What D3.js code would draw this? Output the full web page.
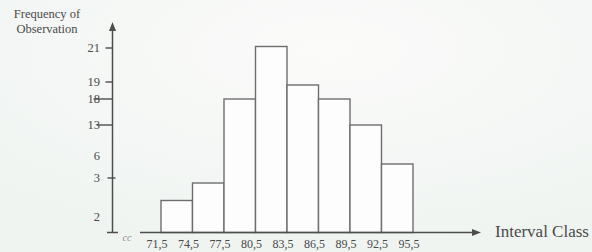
<!DOCTYPE html>
<html>
<head>
<meta charset="utf-8">
<script src="https://cdn.jsdelivr.net/npm/d3@7"></script>
<style>
  body { margin: 0; background: #f5f8f6; }
  svg { display: block; }
  text { font-family: "Liberation Serif", "DejaVu Serif", serif; fill: #4a4a4a; }
</style>
</head>
<body>
<script>
// Data
const classEdges = [71.5, 74.5, 77.5, 80.5, 83.5, 86.5, 89.5, 92.5, 95.5];
const edgeLabels = ["71,5", "74,5", "77,5", "80,5", "83,5", "86,5", "89,5", "92,5", "95,5"];
const frequencies = [2, 3, 18, 21, 19, 18, 13, 6];
const yTickValues = [21, 19, 18, 13, 6, 3, 2];
const yTickMarked = [21, 19, 18, 13, 3];

const width = 592;
const height = 252;

const svg = d3.select("body")
  .append("svg")
  .attr("width", width)
  .attr("height", height);

// faint page background
const grad = svg.append("defs").append("radialGradient")
  .attr("id", "bg").attr("cx", "55%").attr("cy", "20%").attr("r", "80%");
grad.append("stop").attr("offset", "0%").attr("stop-color", "#fbfbfa");
grad.append("stop").attr("offset", "100%").attr("stop-color", "#eff4f1");
svg.append("rect").attr("width", width).attr("height", height).attr("fill", "url(#bg)");

const axisX = 112.5;
const baseY = 232.5;

// Scales (the y axis of the original is hand drawn, not linear)
const xscale = d3.scaleLinear().domain([71.5, 95.5]).range([161, 413]);
const barY = d3.scaleLinear()
  .domain([0, 2, 3, 6, 13, 18, 19, 21])
  .range([baseY, 200.5, 183, 164, 125, 99, 85, 46.5]);
const tickY = d3.scaleLinear()
  .domain([2, 3, 6, 13, 18, 19, 21])
  .range([217, 178, 156, 125, 99, 82, 48]);

const bins = frequencies.map((f, i) => ({ x0: classEdges[i], x1: classEdges[i + 1], f: f }));

// Bars
svg.append("g")
  .selectAll("rect")
  .data(bins)
  .join("rect")
  .attr("x", d => xscale(d.x0))
  .attr("y", d => barY(d.f))
  .attr("width", d => xscale(d.x1) - xscale(d.x0))
  .attr("height", d => baseY - barY(d.f))
  .attr("fill", "#fcfdfc")
  .attr("stroke", "#6e6e6e")
  .attr("stroke-width", 1.4);

// Axes lines
const axisColor = "#4d4d4d";
svg.append("line")
  .attr("x1", axisX).attr("x2", axisX)
  .attr("y1", baseY).attr("y2", 29)
  .attr("stroke", axisColor).attr("stroke-width", 1.5);
svg.append("path")
  .attr("d", `M${axisX},22 L${axisX - 3.5},31 L${axisX + 3.5},31 Z`)
  .attr("fill", axisColor);

svg.append("line")
  .attr("x1", 107).attr("x2", 118)
  .attr("y1", baseY).attr("y2", baseY)
  .attr("stroke", axisColor).attr("stroke-width", 1.5);
svg.append("line")
  .attr("x1", 140).attr("x2", 473)
  .attr("y1", baseY).attr("y2", baseY)
  .attr("stroke", axisColor).attr("stroke-width", 1.5);
svg.append("path")
  .attr("d", `M481,${baseY} L472,${baseY - 3.5} L472,${baseY + 3.5} Z`)
  .attr("fill", axisColor);

// axis break mark
svg.append("text")
  .attr("x", 127).attr("y", 241)
  .attr("text-anchor", "middle")
  .style("font-size", "10px")
  .style("font-style", "italic")
  .style("fill", "#8a8a8a")
  .text("cc");

// Y ticks
const tickLen = { 18: 19, 13: 16, 3: 5 };
svg.append("g")
  .selectAll("line")
  .data(yTickMarked)
  .join("line")
  .attr("x1", d => axisX - (tickLen[d] || 7))
  .attr("x2", d => d === 3 ? axisX + 3 : axisX)
  .attr("y1", d => tickY(d))
  .attr("y2", d => tickY(d))
  .attr("stroke", axisColor)
  .attr("stroke-width", 1.4);

svg.append("g")
  .selectAll("text")
  .data(yTickValues)
  .join("text")
  .attr("x", 100)
  .attr("y", d => tickY(d))
  .attr("dy", "0.35em")
  .attr("text-anchor", "end")
  .style("font-size", "12.5px")
  .text(d => d);

// X tick labels
svg.append("g")
  .selectAll("text")
  .data(classEdges)
  .join("text")
  .attr("x", d => xscale(d) - 4)
  .attr("y", 248)
  .attr("text-anchor", "middle")
  .style("font-size", "12px")
  .text((d, i) => edgeLabels[i]);

// Axis titles
svg.append("text")
  .attr("x", 47).attr("y", 18)
  .attr("text-anchor", "middle")
  .style("font-size", "12.5px")
  .text("Frequency of");
svg.append("text")
  .attr("x", 47).attr("y", 33)
  .attr("text-anchor", "middle")
  .style("font-size", "12.5px")
  .text("Observation");

svg.append("text")
  .attr("x", 495).attr("y", 237)
  .style("font-size", "17px")
  .text("Interval Class");
</script>
</body>
</html>
